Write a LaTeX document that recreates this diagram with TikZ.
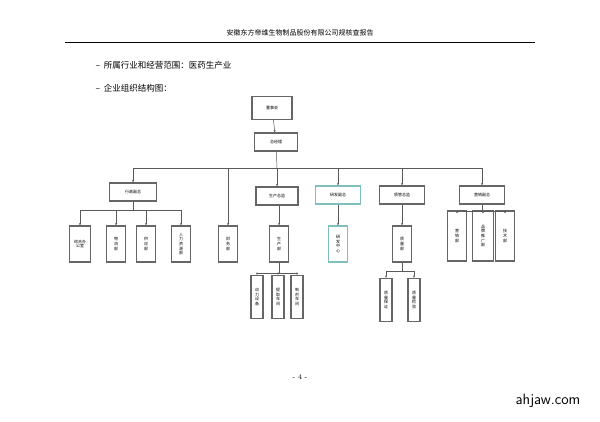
\documentclass[tikz,border=0pt]{standalone}
\usepackage{fontspec}
\newfontfamily\cjk{Noto Sans CJK SC}
\usetikzlibrary{arrows.meta}
\begin{document}
\begin{tikzpicture}[x=1pt,y=-1pt,
  box/.style={draw=gray!80!black,line width=1.1pt,font=\cjk\fontsize{4}{4.6}\selectfont,inner sep=1pt,align=center},
  hb/.style={box,minimum width=#1,minimum height=18pt},
  vb/.style={box,minimum width=19pt,minimum height=#1},
  ln/.style={draw=gray!70!black,line width=0.5pt},
  ar/.style={ln,-{Stealth[length=2.5pt,width=2pt]}}]
\useasboundingbox[fill=white] (0,0) rectangle (600,421);
\node[font=\cjk\fontsize{7}{8}\selectfont] (hd) at (300,33) {安徽东方帝维生物制品股份有限公司规核查报告};
\draw[line width=0.8pt] (65,42) -- (535,42);
\node[anchor=west,font=\cjk\fontsize{8.5}{10}\selectfont] (b1) at (92,65) {–\ \ 所属行业和经营范围：医药生产业};
\node[anchor=west,font=\cjk\fontsize{8.5}{10}\selectfont] (b2) at (92,88) {–\ \ 企业组织结构图：};
\node[hb=40pt,minimum height=23pt] (dsh) at (272,108) {董事会};
\node[hb=43pt] (zjl) at (276,142) {总经理};
\node[hb=47pt] (xz) at (133,192) {行政副总};
\node[hb=42pt] (sc) at (277,196) {生产总监};
\node[hb=45pt,draw=teal!50] (yf) at (338,195) {研发副总};
\node[hb=45pt] (zg) at (402,195) {质管总监};
\node[hb=45pt] (yx) at (482,195) {营销副总};
\node[vb=36pt,minimum width=21pt] (zh) at (80,244) {综合办\\公室};
\node[vb=36pt] (wl) at (116,244) {物\\流\\部};
\node[vb=36pt] (gy) at (146,244) {供\\应\\部};
\node[vb=36pt] (rl) at (181,244) {人\\力\\资\\源\\部};
\node[vb=36pt] (cw) at (228,244) {财\\务\\部};
\node[vb=36pt] (scb) at (279,244) {生\\产\\部};
\node[vb=36pt,draw=teal!50] (yfzx) at (338,244) {研\\发\\中\\心};
\node[vb=36pt] (zlb) at (402,244) {质\\量\\部};
\node[vb=50pt] (yxb) at (457,236) {营\\销\\部};
\node[vb=50pt,minimum width=21pt] (pp) at (483,236) {品\\牌\\推\\广\\部};
\node[vb=50pt] (js) at (505,236) {技\\术\\部};
\node[vb=43pt,minimum width=12pt] (dl) at (257,297) {动\\力\\设\\备};
\node[vb=43pt,minimum width=12pt] (tq) at (278,297) {提\\取\\车\\间};
\node[vb=43pt,minimum width=12pt] (zj) at (297,297) {制\\剂\\车\\间};
\node[vb=43pt,minimum width=12pt] (bz) at (386,300) {质\\量\\保\\证};
\node[vb=43pt,minimum width=12pt] (jy) at (414,300) {质\\量\\检\\验};
\node[font=\fontsize{7}{8}\selectfont] (pg) at (300,377) {- 4 -};
\node[font=\sffamily\fontsize{15}{16}\selectfont] (wm) at (548,401) {ahjaw.com};
\draw[ar] (dsh) -- (zjl);
\draw[ln] (zjl) -- (277,168);
\draw[ln] (133,168) -- (482,168);
\foreach \n in {xz,sc,yf,zg,yx} \draw[ar] (\n.north|-0,168) -- (\n);
\draw[ar] (228,168) -- (cw);
\draw[ln] (xz) -- (133,210); \draw[ln] (80,210) -- (181,210);
\foreach \n in {zh,wl,gy,rl} \draw[ar] (\n.north|-0,210) -- (\n);
\draw[ar] (sc.south-|scb) -- (scb);
\draw[ar] (yf.south-|yfzx) -- (yfzx);
\draw[ar] (zg) -- (zlb);
\draw[ln] (yx) -- (482,211); \draw[ln] (457,211) -- (505,211);
\foreach \n in {yxb,pp,js} \draw[ar] (\n.north|-0,211) -- (\n);
\draw[ln] (scb) -- (279,273); \draw[ln] (257,273) -- (297,273);
\foreach \n in {dl,tq,zj} \draw[ar] (\n.north|-0,273) -- (\n);
\draw[ln] (zlb) -- (402,271); \draw[ln] (386,271) -- (414,271);
\foreach \n in {bz,jy} \draw[ar] (\n.north|-0,271) -- (\n);
\end{tikzpicture}
\end{document}
